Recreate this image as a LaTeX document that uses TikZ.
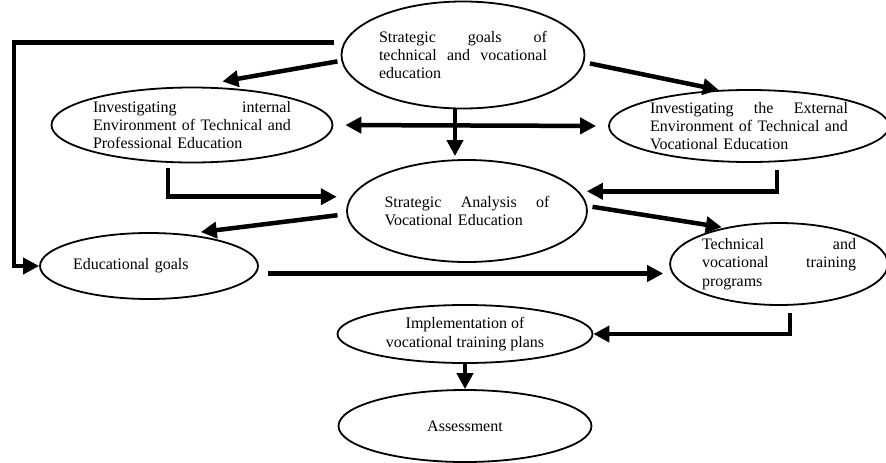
\documentclass[tikz,border=0pt]{standalone}
\usepackage{fontspec}
\setmainfont{Liberation Serif}
\usetikzlibrary{shapes.geometric,arrows.meta}
\hyphenpenalty=10000

\begin{document}
\begin{tikzpicture}[
    x=1pt, y=-1pt,
    every node/.style={font=\fontsize{16}{18.4}\selectfont},
    stage/.style={
        draw,
        ellipse,
        line width=1.8pt,
        inner sep=0pt,
        align=left
    },
    conn/.style={-{Triangle[length=16pt,width=16pt]}, line width=4.5pt},
    conntwo/.style={{Triangle[length=16pt,width=16pt]}-{Triangle[length=16pt,width=16pt]}, line width=4.5pt}
]
    \useasboundingbox (0,0) rectangle (886,463);

    % Top
    \node[stage, text width=168pt, minimum width=243pt, minimum height=107pt]
        (goals) at (463,55) {Strategic\hfill goals\hfill of\\ technical\hfill and\hfill vocational\\ education};

    % Environment analysis
    \node[stage, text width=198pt, minimum width=281pt, minimum height=75pt]
        (internal) at (192,125) {Investigating\hfill internal\\ Environment of Technical and\\ Professional Education};

    \node[stage, text width=198pt, minimum width=272pt, minimum height=72pt]
        (external) at (749,126) {Investigating\hfill the\hfill External\\ Environment of Technical and\\ Vocational Education};

    \node[stage, text width=165pt, minimum width=240pt, minimum height=102pt]
        (analysis) at (467,211) {Strategic\hfill Analysis\hfill of\\ Vocational Education};

    % Goals and programs
    \node[stage, text width=152pt, minimum width=218pt, minimum height=66pt]
        (edugoals) at (149,266) {Educational goals};

    \node[stage, text width=154pt, minimum width=212pt, minimum height=82pt]
        (programs) at (779,264) {Technical\hfill and\\ vocational\hfill training\\ programs};

    % Bottom
    \node[stage, align=center, minimum width=255pt, minimum height=58pt]
        (implement) at (465,334) {Implementation of\\ vocational training plans};

    \node[stage, align=center, minimum width=253pt, minimum height=72pt]
        (assess) at (465,426) {Assessment};

    % Connectors
    \draw[conn] ([xshift=-10pt]goals.174) -| ([xshift=-25pt]edugoals.west) -- (edugoals.west);
    \draw[conn] ([xshift=-4pt]goals.183) -- ([shift={(0,-6)}]internal.51);
    \draw[conn] ([xshift=6pt]goals.-4) -- (external.130);
    \draw[conn, shorten >=3pt] ([xshift=-8pt]goals.south) -- ([xshift=-8pt]goals.south |- analysis.north);
    \draw[conntwo, shorten <=12pt, shorten >=12pt] (internal.east) -- (external.west);
    \draw[conn] ([shift={(-24,5)}]internal.south) |- ([xshift=-14pt]analysis.173);
    \draw[conn] ([shift={(28,7)}]external.south) |- ([xshift=8pt]analysis.10);
    \draw[conn] ([xshift=-9pt]analysis.182) -- ([shift={(0,-4)}]edugoals.30);
    \draw[conn] ([xshift=5pt]analysis.2) -- ([shift={(0,-1)}]programs.148);
    \draw[conn, shorten <=12pt, shorten >=6pt] (edugoals.-4) -- (edugoals.-4 -| programs.west);
    \draw[conn] ([shift={(11,7)}]programs.south) |- (implement.east);
    \draw[conn] (implement.south) -- (assess.north);

\end{tikzpicture}
\end{document}
